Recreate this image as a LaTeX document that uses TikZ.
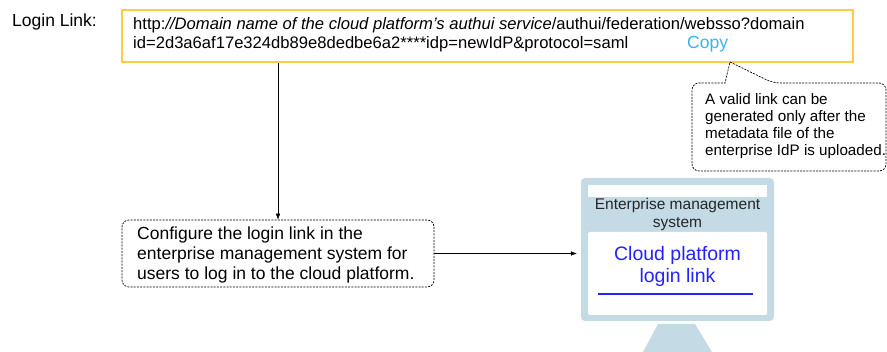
\documentclass[tikz,border=0pt]{standalone}
\usepackage{fontspec}
\setmainfont{Liberation Sans}
\usetikzlibrary{arrows.meta, calc}
\definecolor{linkyellow}{RGB}{255,202,70}
\definecolor{copyblue}{RGB}{55,180,240}
\definecolor{screenblue}{RGB}{196,219,230}
\definecolor{linkblue}{RGB}{35,35,255}

\begin{document}
\begin{tikzpicture}[x=1pt, y=-1pt, >={Latex[length=6pt,width=4.5pt]}]
\useasboundingbox (0,0) rectangle (887,352);
\tikzset{
  txt/.style={inner sep=0pt, align=left, anchor=west, font=\fontsize{17.5}{20}\selectfont},
  note/.style={draw, line width=0.7pt, dash pattern=on 2pt off 1.2pt, rounded corners=7pt},
}

% Login link field
\node[txt] (lbl) at (12,22) {Login Link:};
\node[draw=linkyellow, line width=1.6pt, minimum width=731pt, minimum height=52pt, anchor=north west] (link) at (121,9) {};
\node[txt, font=\fontsize{16.6}{19}\selectfont] (url1) at (133,25) {http:\textit{//Domain name of the cloud platform's authui service}/authui/federation/websso?domain};
\node[txt, font=\fontsize{16.6}{19}\selectfont] (url2) at (133,44) {id=2d3a6af17e324db89e8dedbe6a2****idp=newIdP\&protocol=saml};
\node[txt, text=copyblue] (copy) at (687,44) {Copy};

% Callout under the link
\node[txt, font=\fontsize{15.2}{17}\selectfont] (hint) at (705,126) {A valid link can be\\generated only after the\\metadata file of the\\enterprise IdP is uploaded.};
\draw[note] (730,62) -- (773,83) [rounded corners=7pt] -- (886,83) -- (886,171) -- (692,171) -- (692,83) [sharp corners] -- (725,83) -- cycle;

% Step box
\node[note, minimum width=312pt, minimum height=67pt] (cfg) at (278,253.5) {};
\node[txt] (cfgtxt) at (137,255) {Configure the login link in the\\enterprise management system for\\users to log in to the cloud platform.};

% Monitor
\node[fill=screenblue, rounded corners=4pt, minimum width=193pt, minimum height=143pt, inner sep=0pt] (mon) at (677.5,249.5) {};
\fill[white] (588,185) rectangle (767,197);
\node[font=\fontsize{15.5}{18}\selectfont, text=black!85, align=center, inner sep=0pt] (ems) at (677.5,214) {Enterprise management\\system};
\fill[white, rounded corners=2pt] (588,232) rectangle (767,315);
\node[font=\fontsize{19.5}{22}\selectfont, text=linkblue, align=center, inner sep=0pt] (cloud) at (677.5,266) {Cloud platform\\login link};
\draw[linkblue, line width=2pt] (598,294) -- (753,294);
\fill[screenblue] (658,324) -- (695,324) -- (712,352) -- (643,352) -- cycle; % stand

% Connectors
\draw[->] (link.south -| cfg.north) -- (cfg.north);
\draw[->, shorten >=4pt] (cfg.east) -- (cfg.east -| mon.west);
\end{tikzpicture}
\end{document}
